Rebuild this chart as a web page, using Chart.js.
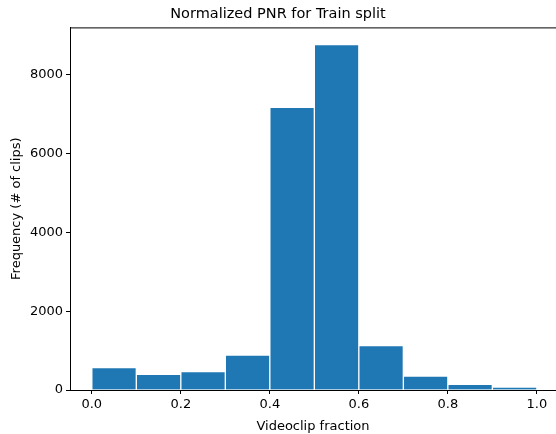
<!DOCTYPE html>
<html>
<head>
<meta charset="utf-8">
<script src="https://cdn.jsdelivr.net/npm/chart.js@4"></script>
<style>
  html, body { margin: 0; padding: 0; background: #fff; }
  #wrap { width: 556px; height: 434px; }
</style>
</head>
<body>
<div id="wrap"><canvas id="hist"></canvas></div>
<script>
// histogram bins (centres) and counts
const binCenters = [0.05, 0.15, 0.25, 0.35, 0.45, 0.55, 0.65, 0.75, 0.85, 0.95];
const counts = [566, 398, 465, 889, 7170, 8765, 1125, 356, 145, 76];
const xTicks = [0.0, 0.2, 0.4, 0.6, 0.8, 1.0];
const yTicks = [0, 2000, 4000, 6000, 8000];

const FONT = "'DejaVu Sans', sans-serif";

// top frame line (right side of the box is cropped off in the original)
const topFrame = {
  id: 'topFrame',
  afterDraw(chart) {
    const { ctx, chartArea } = chart;
    ctx.save();
    ctx.strokeStyle = '#000';
    ctx.lineWidth = 1;
    ctx.beginPath();
    ctx.moveTo(chartArea.left, chartArea.top + 0.5);
    ctx.lineTo(chartArea.right, chartArea.top + 0.5);
    ctx.stroke();
    ctx.restore();
  }
};

const ctx = document.getElementById('hist').getContext('2d');
new Chart(ctx, {
  type: 'bar',
  data: {
    datasets: [{
      data: binCenters.map((c, i) => ({ x: c, y: counts[i] })),
      backgroundColor: '#1f77b4',
      borderColor: 'rgba(255,255,255,0.5)',
      borderWidth: 1,
      barPercentage: 1,
      categoryPercentage: 1
    }]
  },
  options: {
    responsive: true,
    maintainAspectRatio: false,
    animation: false,
    layout: { padding: 0 },
    plugins: {
      legend: { display: false },
      tooltip: { enabled: false },
      title: {
        display: true,
        text: 'Normalized PNR for Train split',
        color: '#000',
        font: { family: FONT, size: 14.5, weight: 'normal' },
        padding: { top: 6, bottom: 4 }
      }
    },
    scales: {
      x: {
        type: 'linear',
        min: -0.049,
        max: 1.043,
        offset: false,
        afterFit(scale) { scale.height = 44; },
        afterBuildTicks(scale) { scale.ticks = xTicks.map(v => ({ value: v })); },
        grid: {
          offset: false,
          drawOnChartArea: false,
          drawTicks: true,
          tickLength: 4,
          tickColor: '#000'
        },
        border: { display: true, color: '#000', width: 1 },
        ticks: {
          color: '#000',
          padding: 3,
          maxRotation: 0,
          font: { family: FONT, size: 13 },
          callback: v => v.toFixed(1)
        },
        title: {
          display: true,
          text: 'Videoclip fraction',
          color: '#000',
          font: { family: FONT, size: 13 },
          padding: { top: 2, bottom: 0 }
        }
      },
      y: {
        min: 0,
        max: 9200,
        afterFit(scale) { scale.width = 70; },
        afterBuildTicks(scale) { scale.ticks = yTicks.map(v => ({ value: v })); },
        grid: {
          offset: false,
          drawOnChartArea: false,
          drawTicks: true,
          tickLength: 4,
          tickColor: '#000'
        },
        border: { display: true, color: '#000', width: 1 },
        ticks: {
          color: '#000',
          padding: 3,
          font: { family: FONT, size: 13 },
          callback: v => String(v)
        },
        title: {
          display: true,
          text: 'Frequency (# of clips)',
          color: '#000',
          font: { family: FONT, size: 13 },
          padding: { top: 9, bottom: 0 }
        }
      }
    }
  },
  plugins: [topFrame]
});
</script>
</body>
</html>
